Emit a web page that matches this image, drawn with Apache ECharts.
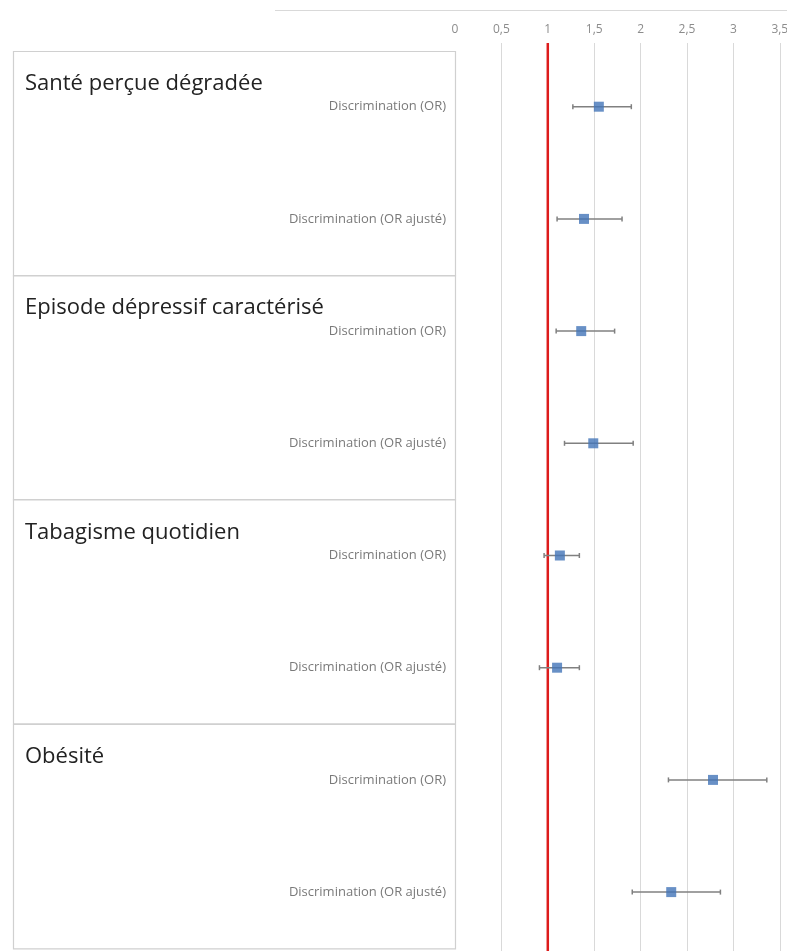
<!DOCTYPE html>
<html>
<head>
<meta charset="utf-8">
<script src="https://cdn.jsdelivr.net/npm/echarts@6/dist/echarts.min.js"></script>
<style>
html,body{margin:0;padding:0;background:#fff;}
#chart{width:787px;height:951px;}
</style>
</head>
<body>
<div id="chart"></div>
<script>
// ---- data ----
const groups = ["Santé perçue dégradée", "Episode dépressif caractérisé", "Tabagisme quotidien", "Obésité"];
const measures = ["Discrimination (OR)", "Discrimination (OR ajusté)"];
const orValues = [1.55, 1.39, 1.36, 1.49, 1.13, 1.10, 2.78, 2.33];
const ciLow    = [1.27, 1.10, 1.09, 1.18, 0.96, 0.91, 2.30, 1.91];
const ciHigh   = [1.90, 1.80, 1.72, 1.92, 1.34, 1.34, 3.36, 2.86];
const refValue = 1;
const xTicks = { min: 0, max: 4, interval: 0.5 };

// ---- layout ----
const GL = 455, GW = 371.2;
const MAIN_TOP = 50.6, MAIN_H = 897.6;
const LINE_TOP = 43;
const BOX_L = 13;

const categories = [];
groups.forEach(() => measures.forEach(m => categories.push(m)));

const chart = echarts.init(document.getElementById('chart'));
const fmt = v => String(v).replace('.', ',');

const bandH = MAIN_H / categories.length;
const panelH = bandH * measures.length;
const graphics = [
  { type: 'line', shape: { x1: 275, y1: 10.5, x2: 787, y2: 10.5 }, style: { stroke: '#d9d9d9', lineWidth: 1 } }
];
groups.forEach((g, i) => {
  const top = MAIN_TOP + i * panelH;
  graphics.push({ type: 'rect', z: 0, shape: { x: BOX_L + 0.5, y: Math.round(top) + 0.5, width: GL - BOX_L, height: panelH },
    style: { fill: 'none', stroke: '#d0d0d0', lineWidth: 1.2 } });
  graphics.push({ type: 'text', x: 25, y: top + 33,
    style: { text: g, fill: '#222222', font: '22px "Open Sans"', textVerticalAlign: 'middle' } });
});

chart.setOption({
  animation: false,
  graphic: graphics,
  grid: [
    { left: GL, width: GW, top: MAIN_TOP, height: MAIN_H, outerBoundsMode: 'none', containLabel: false },
    { left: GL, width: GW, top: LINE_TOP, bottom: 0, outerBoundsMode: 'none', containLabel: false }
  ],
  xAxis: [
    { gridIndex: 0, type: 'value', min: xTicks.min, max: xTicks.max, interval: xTicks.interval,
      show: false, splitLine: { show: false } },
    { gridIndex: 1, type: 'value', position: 'top', min: xTicks.min, max: xTicks.max, interval: xTicks.interval,
      axisLine: { show: false }, axisTick: { show: false },
      axisLabel: { margin: 7, color: '#8c8c8c', fontSize: 12, fontFamily: 'Open Sans', formatter: fmt },
      splitLine: { show: true, showMinLine: false, lineStyle: { color: '#d9d9d9', width: 1 } } }
  ],
  yAxis: [
    { gridIndex: 0, type: 'category', data: categories, inverse: true,
      axisLine: { show: false }, axisTick: { show: false }, splitLine: { show: false },
      axisLabel: { margin: 9, color: '#7a7a7a', fontSize: 13, fontFamily: 'Open Sans' } },
    { gridIndex: 1, type: 'value', min: 0, max: 1, show: false, splitLine: { show: false } }
  ],
  series: [
    { type: 'line', xAxisIndex: 1, yAxisIndex: 1, data: [[refValue, 0], [refValue, 1]],
      symbol: 'none', lineStyle: { color: '#dd1c1c', width: 2.5 }, z: 3 },
    { type: 'custom', xAxisIndex: 0, yAxisIndex: 0, z: 4,
      data: categories.map((c, i) => [i, ciLow[i], ciHigh[i]]),
      encode: { y: 0, x: [1, 2] },
      renderItem: (params, api) => {
        const lo = api.coord([api.value(1), api.value(0)]);
        const hi = api.coord([api.value(2), api.value(0)]);
        const y = lo[1], cap = 2.5;
        const st = { stroke: '#808080', lineWidth: 1.5 };
        return { type: 'group', children: [
          { type: 'line', shape: { x1: lo[0], y1: y, x2: hi[0], y2: y }, style: st },
          { type: 'line', shape: { x1: lo[0], y1: y - cap, x2: lo[0], y2: y + cap }, style: st },
          { type: 'line', shape: { x1: hi[0], y1: y - cap, x2: hi[0], y2: y + cap }, style: st }
        ]};
      } },
    { type: 'scatter', xAxisIndex: 0, yAxisIndex: 0, z: 5,
      data: categories.map((c, i) => [orValues[i], i]),
      symbol: 'rect', symbolSize: 10, itemStyle: { color: '#4274b8' } }
  ]
});
</script>
</body>
</html>
